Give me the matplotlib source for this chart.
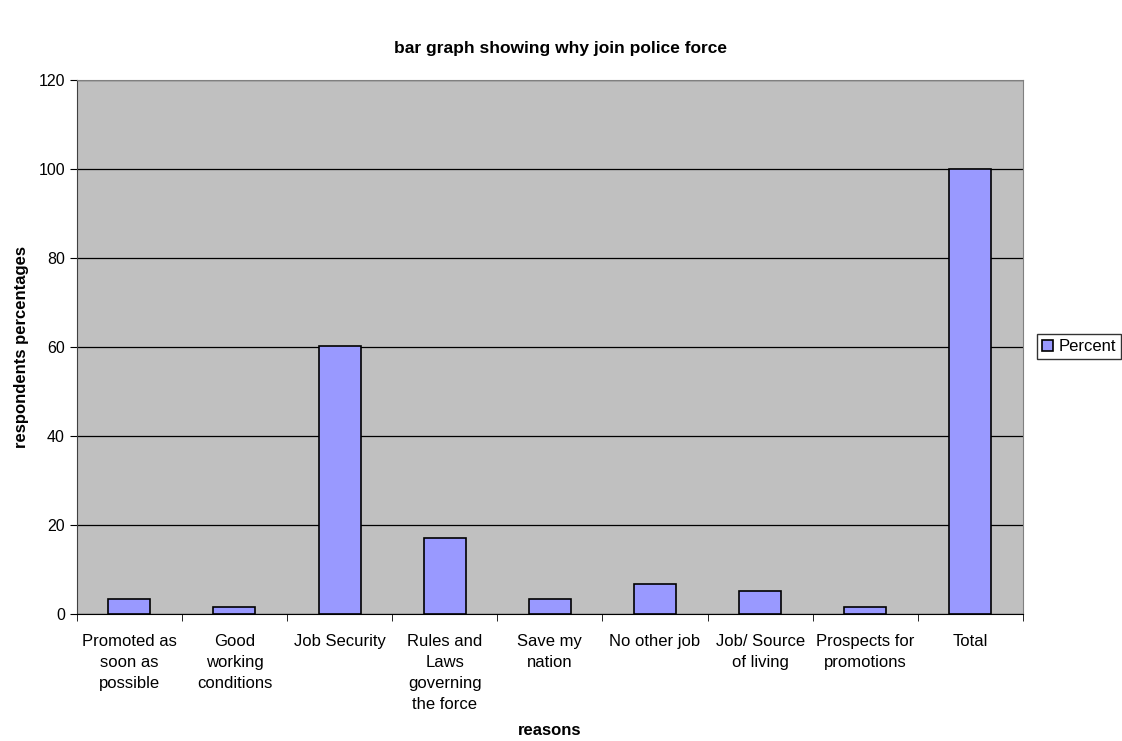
import numpy as np
import matplotlib.pyplot as plt

plt.rcParams['font.family'] = ['Liberation Sans', 'DejaVu Sans']

reasons = ["Promoted as\nsoon as\npossible", "Good\nworking\nconditions", "Job Security",
           "Rules and\nLaws\ngoverning\nthe force", "Save my\nnation", "No other job",
           "Job/ Source\nof living", "Prospects for\npromotions", "Total"]
percent = [3.4, 1.7, 60.3, 17.2, 3.4, 6.9, 5.2, 1.7, 100]

fig = plt.figure(figsize=(11.22, 7.41), dpi=100)
ax = fig.add_axes([0.0684, 0.171, 0.8434, 0.721])
ax.set_facecolor('#c0c0c0')

x = np.arange(len(reasons))
bars = ax.bar(x, percent, width=0.4, color='#9999ff', edgecolor='black', linewidth=1.2,
              label='Percent', zorder=3)

ax.set_xlim(-0.5, len(reasons) - 0.5)
ax.set_ylim(0, 120)
ax.set_yticks(range(0, 121, 20))
ax.yaxis.grid(True, color='black', linewidth=0.9, zorder=1)
ax.set_axisbelow(True)

ax.set_xticks(x)
ax.set_xticklabels(reasons, fontsize=12, linespacing=1.5, va='top')
ax.set_xticks(np.arange(-0.5, len(reasons)), minor=True)
ax.tick_params(axis='x', which='major', length=0, pad=14)
ax.tick_params(axis='x', which='minor', length=5, direction='out', color='black')
ax.tick_params(axis='y', labelsize=11.5, length=5, color='black')

for s in ['top', 'right']:
    ax.spines[s].set_color('#808080')
ax.spines['left'].set_color('#404040')
ax.spines['bottom'].set_color('black')

ax.set_xlabel('reasons', fontsize=12, fontweight='bold')
ax.xaxis.set_label_coords(0.5, -0.204)
ax.set_ylabel('respondents percentages', fontsize=12, fontweight='bold', labelpad=7)
fig.suptitle('bar graph showing why join police force', fontsize=12.5, fontweight='bold', y=0.945)

leg = fig.legend(handles=[bars], labels=['Percent'], loc='center left',
                 bbox_to_anchor=(0.924, 0.532), fontsize=12, frameon=True, fancybox=False,
                 handlelength=0.7, handleheight=0.7, handletextpad=0.3, borderpad=0.3,
                 borderaxespad=0)
leg.get_frame().set_edgecolor('black')
leg.get_frame().set_linewidth(1)

fig.savefig('out.png', dpi=100)
